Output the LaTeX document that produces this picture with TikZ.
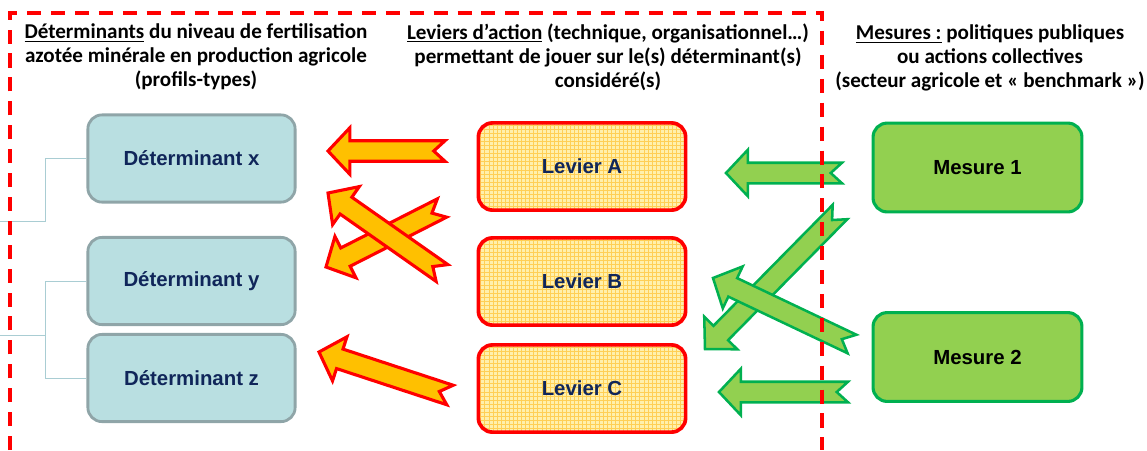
\documentclass[tikz,border=0pt]{standalone}
\usepackage{fontspec}
\setmainfont{Carlito}
\newfontfamily\arial{Liberation Sans}
\usetikzlibrary{calc}
\definecolor{detfond}{HTML}{B9DFE1}
\definecolor{detbord}{HTML}{8FA5A8}
\definecolor{marine}{HTML}{10265A}
\definecolor{levfond}{HTML}{FFF0AC}
\definecolor{levgrille}{HTML}{FFCF55}
\definecolor{mesfond}{HTML}{92D050}
\definecolor{mesbord}{HTML}{00B050}
\definecolor{flecheor}{HTML}{FFC000}
\definecolor{lien}{HTML}{A9CDD3}

\begin{document}
\begin{tikzpicture}[x=0.025cm,y=-0.025cm,
	boite/.style={rounded corners=10pt, minimum width=5.18cm, minimum height=2.18cm, font=\arial\bfseries\fontsize{14.5}{16}\selectfont},
	det/.style={boite, draw=detbord, fill=detfond, text=marine, line width=2pt},
	lev/.style={boite, draw=red, fill=levfond, text=marine, line width=2.6pt,
		path picture={\draw[levgrille, line width=.3pt, step=2.9pt] (path picture bounding box.south west) grid (path picture bounding box.north east);}},
	mes/.style={boite, draw=mesbord, fill=mesfond, line width=2.2pt},
	flecheA/.style={draw=red, fill=flecheor, line width=2.2pt},
	flecheV/.style={draw=mesbord, fill=mesfond, line width=1.8pt},
	titre/.style={align=center, font=\bfseries\fontsize{15}{17}\selectfont}]
			\useasboundingbox (0,0) rectangle (1147,450);
			\def\sw{7.3pt}
			\def\hw{16.5pt}
			\def\hl{15.5pt}
			\def\nd{8pt}
			\node[titre] (t1) at (196,57) {\underline{Déterminants} du niveau de fertilisation\\azotée minérale en production agricole\\(profils-types)};
			\node[titre] (t2) at (608,57) {\underline{Leviers d’action} (technique, organisationnel…)\\permettant de jouer sur le(s) déterminant(s)\\considéré(s)};
			\node[titre] (t3) at (990,58) {\underline{Mesures :} politiques publiques\\ou actions collectives\\(secteur agricole et « benchmark »)};
			\node[det] (detx) at (191.5,158.5) {Déterminant x};
			\node[det] (dety) at (191.5,281) {Déterminant y};
			\node[det] (detz) at (191.5,378) {Déterminant z};
			\node[lev] (levA) at (582,166.5) {Levier A};
			\node[lev] (levB) at (582,281.5) {Levier B};
			\node[lev] (levC) at (582,388.5) {Levier C};
			\node[mes, minimum width=5.22cm, minimum height=2.22cm] (mes1) at (977.5,167.5) {Mesure 1};
			\node[mes, minimum width=5.22cm, minimum height=2.22cm] (mes2) at (977.5,357) {Mesure 2};
			\path
			(0,221) coordinate (bx)
			(0,335) coordinate (byz)
			(445,151) coordinate (qA1) (328,151) coordinate (pA1)
			(442,273) coordinate (qA2) (328,193) coordinate (pA2)
			(442,208) coordinate (qA3) (326,267) coordinate (pA3)
			(450,395) coordinate (qA4) (319,352) coordinate (pA4)
			(842,173) coordinate (qV1) (726,173) coordinate (pV1)
			(840,212) coordinate (qV2) (705,349) coordinate (pV2)
			(852,344) coordinate (qV3) (713,278) coordinate (pV3)
			(848,392) coordinate (qV4) (719,392) coordinate (pV4)
			;
			\draw[lien, line width=.7pt] (bx) -- ++(45,0) |- (detx.west);
			\draw[lien, line width=.7pt] (byz) -- ++(45,0) coordinate (n) |- (dety.west) (n) |- (detz.west);
			\foreach \depart/\arrivee/\genre in {qA1/pA1/flecheA,qA3/pA3/flecheA,qA2/pA2/flecheA,qA4/pA4/flecheA,qV1/pV1/flecheV,qV2/pV2/flecheV,qV3/pV3/flecheV,qV4/pV4/flecheV}
			\draw[\genre] let \p1=($(\arrivee)-(\depart)$), \n1={atan2(\y1,\x1)}, \n2={veclen(\x1,\y1)-\hl} in
			($(\depart)+(\n1+90:\sw)$) -- ($(\depart)+(\n1:\n2)+(\n1+90:\sw)$) -- ($(\depart)+(\n1:\n2)+(\n1+90:\hw)$) -- (\arrivee)
			-- ($(\depart)+(\n1:\n2)+(\n1-90:\hw)$) -- ($(\depart)+(\n1:\n2)+(\n1-90:\sw)$) -- ($(\depart)+(\n1-90:\sw)$) -- ($(\depart)+(\n1:\nd)$) -- cycle;
			\draw[red, line width=2.8pt, dash pattern=on 10pt off 7pt] (10,450) -- (10,13) -- (822,13) -- (822,450);
		\end{tikzpicture}
\end{document}
